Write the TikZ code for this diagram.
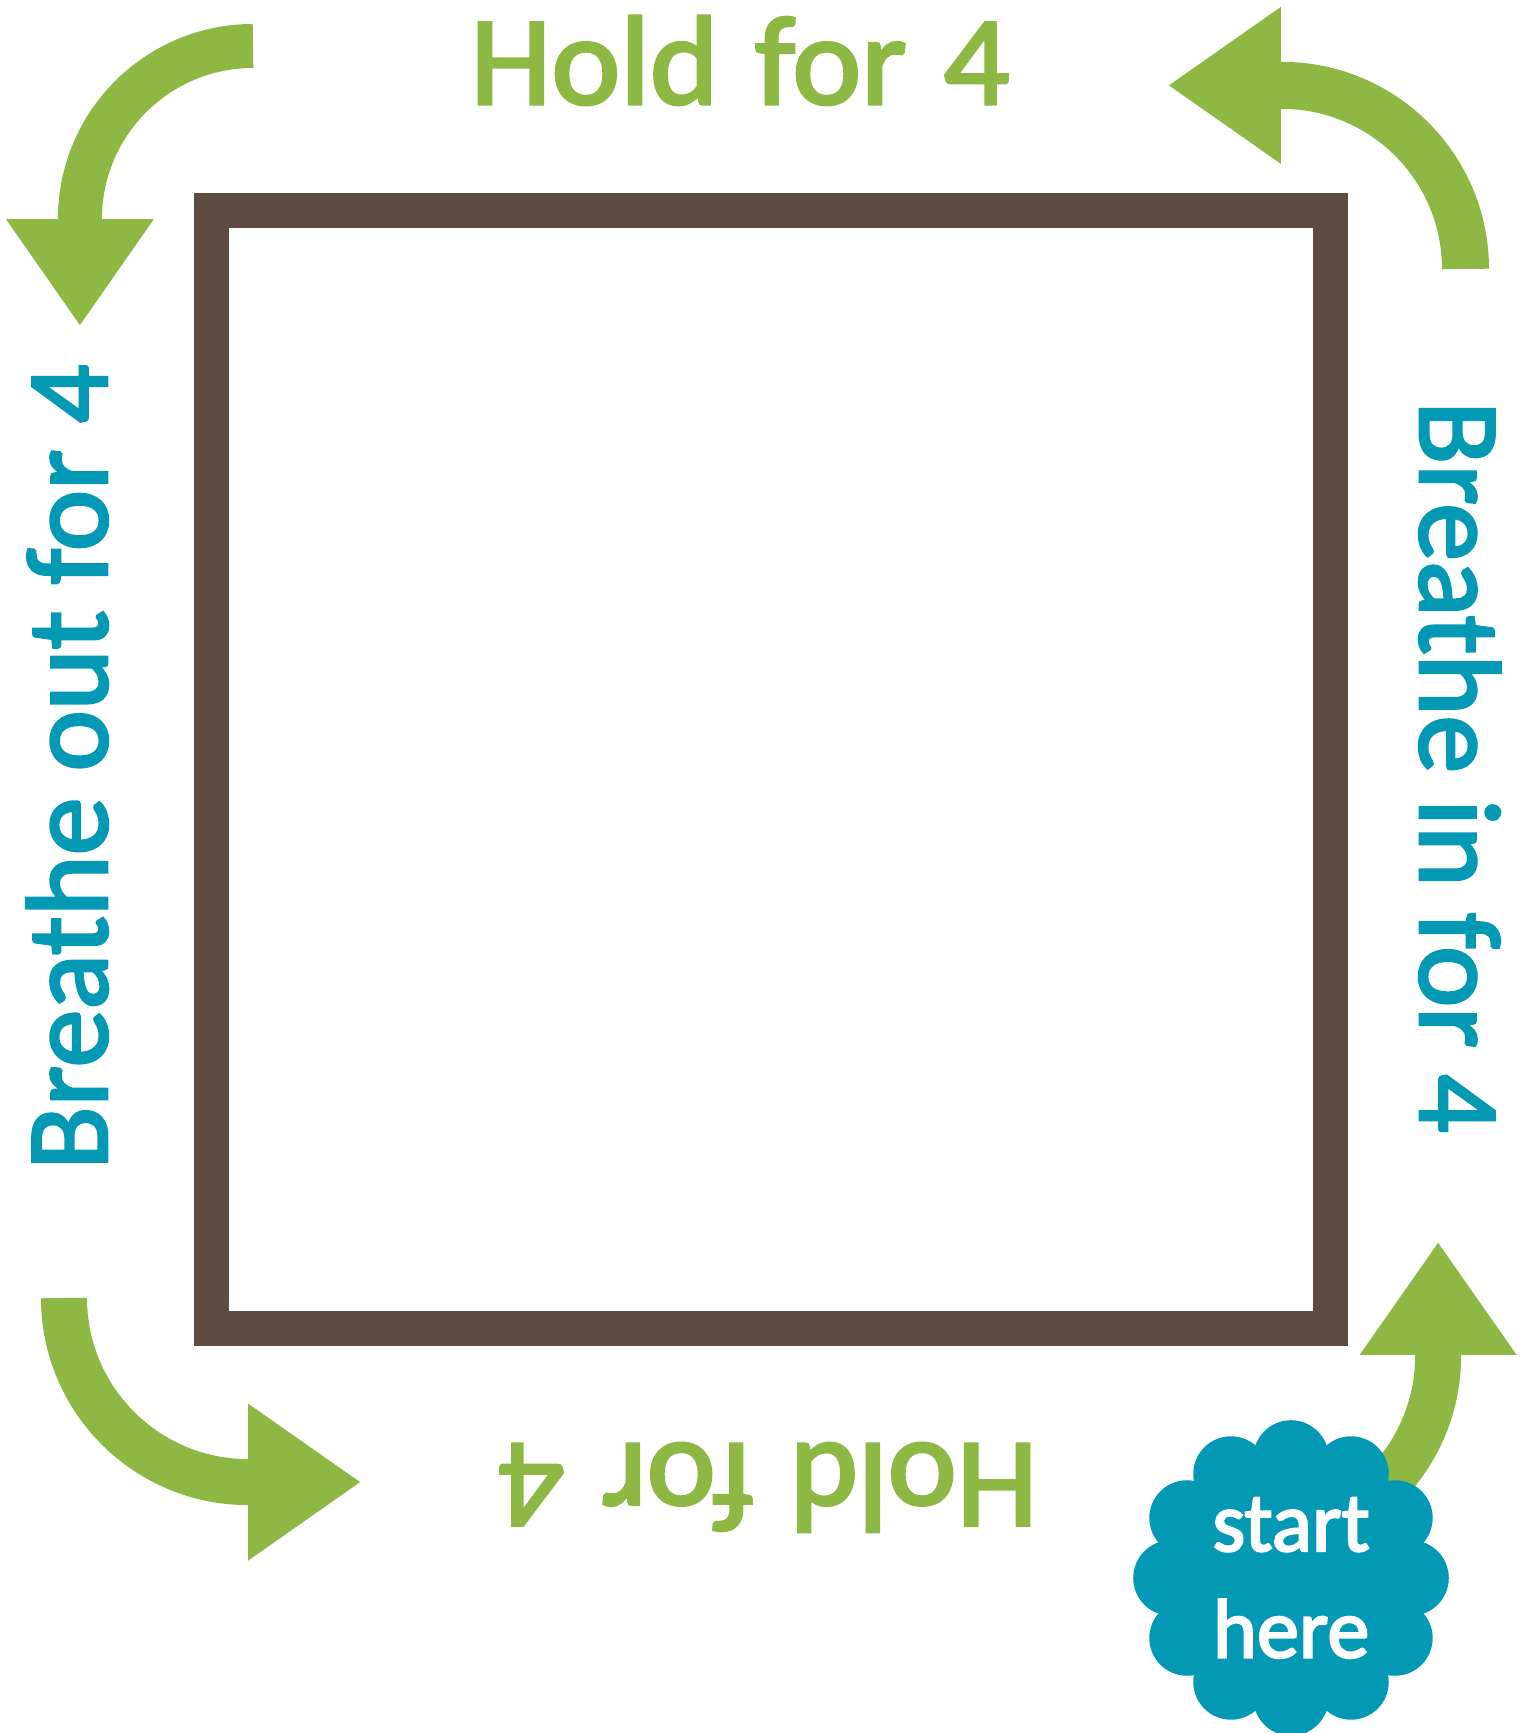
\documentclass[tikz,border=0pt]{standalone}
\usepackage{fontspec}
\setmainfont[FakeBold=2.5]{Carlito}
\newfontfamily\holdfont[FakeBold=2.5, FakeStretch=1.03, WordSpace=1.25]{Carlito}
\usepackage{tikz}
\usetikzlibrary{arrows.meta, positioning}
\definecolor{leafgreen}{RGB}{141,184,67}
\definecolor{oceanteal}{RGB}{3,153,181}
\definecolor{framebrown}{RGB}{93,74,65}
\tikzstyle{breath} = [text=oceanteal, font=\fontsize{33}{40}\selectfont, anchor=base, inner sep=0pt]
\tikzstyle{hold} = [text=leafgreen, font=\holdfont\fontsize{36}{43}\selectfont, anchor=base, inner sep=0pt]
\tikzstyle{turn} = [draw=leafgreen, line width=0.46cm, line join=round, -{Triangle[length=1.12cm, width=1.57cm, line width=0pt]}]

\begin{document}
\begin{tikzpicture}[x=0.01cm, y=0.01cm]
\useasboundingbox (0,0) rectangle (1528,1733);

% ===== SQUARE =====
\node (frame) [draw=framebrown, line width=0.35cm, minimum width=11.18cm, minimum height=11.17cm, inner sep=0pt] at (771,963.5) {};

% ===== LABELS =====
\node (holdtop) [hold] at (740,1629) {Hold for 4};
\node (holdbottom) [hold, rotate=180] at (768,289) {Hold for 4};
\node (breatheout) [breath, rotate=90] at (107,966) {Breathe out for 4};
\node (breathein) [breath, rotate=-90] at (1420,966) {Breathe in for 4};

% ===== ARROWS =====
% corner arrows, each a quarter turn
\coordinate (tlend) at (253,1687);
\coordinate (trend) at (1465.5,1464);
\coordinate (blend) at (64,435);
\coordinate (brend) at (1254,193);
\draw [turn, line width=0.44cm, -{Triangle[length=1.06cm, width=1.48cm, line width=0pt]}] (tlend) arc[start angle=90, end angle=180, radius=1.73cm] -- ++(0,-106);
\draw [turn, line width=0.47cm] (trend) arc[start angle=0, end angle=90, radius=1.835cm] -- ++(-113,0);
\draw [turn] (blend) arc[start angle=180, end angle=270, radius=1.84cm] -- ++(112,0);
\draw [turn] (brend) arc[start angle=270, end angle=360, radius=1.84cm] -- ++(0,113);

% ===== START BADGE =====
\coordinate (cloudc) at (1291,155);
\fill [oceanteal] (cloudc) circle[radius=1.2cm];
\foreach \a in {0,30,...,330}
  \fill [oceanteal] (cloudc) ++(\a:1.2cm) circle[radius=0.377cm];
\node (start) [text=white, font=\fontsize{24}{30.3}\selectfont, align=center, inner sep=0pt] at (cloudc) {start\\here};

\end{tikzpicture}
\end{document}
